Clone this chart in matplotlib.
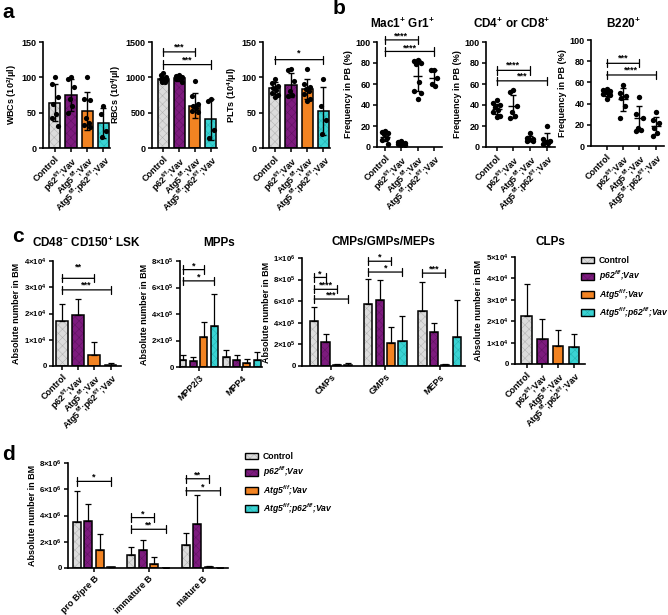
import numpy as np
import matplotlib
matplotlib.use("Agg")
import matplotlib.pyplot as plt
from matplotlib.patches import Patch
from matplotlib.legend_handler import HandlerTuple
from matplotlib.ticker import FuncFormatter

plt.rcParams['font.family'] = ['Liberation Sans', 'DejaVu Sans']
plt.rcParams['font.weight'] = 'bold'
plt.rcParams['axes.labelweight'] = 'bold'
plt.rcParams['mathtext.fontset'] = 'custom'
plt.rcParams['mathtext.rm'] = 'Liberation Sans:bold'
plt.rcParams['mathtext.bf'] = 'Liberation Sans:bold'
plt.rcParams['mathtext.it'] = 'Liberation Sans:italic:bold'
plt.rcParams['mathtext.default'] = 'bf'
plt.rcParams['hatch.linewidth'] = 0.35

# ---- data ----
genotypes = ["Control", "p62$^{f/f}$;Vav", "Atg5$^{f/f}$;Vav", "Atg5$^{f/f}$;p62$^{f/f}$;Vav"]
legend_labels = ["Control", "p62$^{\\mathit{f/f}}$;Vav", "Atg5$^{\\mathit{f/f}}$;Vav",
                 "Atg5$^{\\mathit{f/f}}$;p62$^{\\mathit{f/f}}$;Vav"]
colors = ["#dcdcdc", "#7d1b7e", "#f28322", "#3ad3d3"]
hatch_colors = ["#b0b0b0", "#5e1260", None, "#22b0b0"]

# a: blood counts (mean, SD, individual mice)
wbc_mean = [64, 75, 52, 35]
wbc_sd = [26, 22, 27, 21]
wbc_pts = [[100, 90, 72, 62, 48, 42, 31], [100, 98, 86, 70, 60, 50],
           [100, 70, 68, 42, 35, 32, 30], [60, 48, 24, 16]]
rbc_mean = [975, 985, 600, 410]
rbc_sd = [35, 40, 175, 290]
rbc_pts = [[1060, 1030, 1010, 990, 980, 970, 960, 950, 940, 930],
           [1040, 1020, 1010, 1000, 990, 970, 940],
           [950, 740, 620, 590, 560, 530, 510], [700, 660, 260, 140]]
plt_mean = [85, 89, 84, 52]
plt_sd = [8, 17, 14, 34]
plt_pts = [[98, 92, 88, 85, 82, 78, 75, 72], [112, 110, 95, 80, 75, 73],
           [112, 90, 86, 84, 80, 76, 70, 66], [97, 60, 40, 20]]

# b: PB frequencies
mac_pts = [[15, 14, 13, 12, 9, 7, 3], [6, 5, 4, 4, 3, 3, 2, 2],
           [83, 82, 80, 79, 62, 53, 51, 46], [73, 73, 66, 60, 58]]
mac_mean = [10, 3.5, 68, 66]
mac_sd = [4, 1.5, 15, 7]
cd_pts = [[45, 42, 40, 38, 35, 33, 30, 29], [54, 52, 39, 33, 30, 28],
          [13, 9, 8, 7, 7, 6, 6], [20, 8, 6, 5, 4, 3]]
cd_mean = [36, 39, 8, 7]
cd_sd = [5, 11, 2.5, 6]
b220_pts = [[54, 53, 52, 51, 50, 49, 48, 44], [58, 50, 47, 45, 38, 26],
            [46, 30, 26, 17, 15, 14], [32, 25, 22, 17, 12, 9]]
b220_mean = [50, 44, 26, 19]
b220_sd = [3, 11, 12, 8]

# c: BM progenitors (mean, upper SD)
lsk_mean = [1.7e4, 1.93e4, 0.43e4, 0.03e4]
lsk_err = [0.65e4, 0.62e4, 0.47e4, 0.07e4]
mpp_groups = ["MPP2/3", "MPP4"]
mpp_mean = [[0.55e5, 0.75e5], [0.45e5, 0.55e5], [2.3e5, 0.3e5], [3.1e5, 0.5e5]]
mpp_err = [[0.35e5, 0.5e5], [0.3e5, 0.35e5], [1.1e5, 0.3e5], [2.4e5, 0.6e5]]
prog_groups = ["CMPs", "GMPs", "MEPs"]
prog_mean = [[4.15e5, 5.77e5, 5.1e5], [2.2e5, 6.1e5, 3.15e5],
             [0.08e5, 2.15e5, 0.1e5], [0.1e5, 2.3e5, 2.65e5]]
prog_err = [[1.35e5, 2.25e5, 2.65e5], [0.8e5, 1.9e5, 0.85e5],
            [0.07e5, 1.45e5, 0.1e5], [0.2e5, 2.35e5, 3.45e5]]
clp_mean = [2.25e4, 1.15e4, 0.86e4, 0.79e4]
clp_err = [1.5e4, 0.95e4, 0.74e4, 0.62e4]

# d: B cells
bcell_groups = ["pro B/pre B", "immature B", "mature B"]
bcell_mean = [[3.53e6, 1.0e6, 1.72e6], [3.6e6, 1.34e6, 3.33e6],
              [1.34e6, 0.33e6, 0.08e6], [0.05e6, 0.02e6, 0.02e6]]
bcell_err = [[2.35e6, 0.57e6, 0.98e6], [1.3e6, 0.81e6, 2.23e6],
             [1.24e6, 0.5e6, 0.05e6], [0.03e6, 0.01e6, 0.01e6]]

W, H = 668, 615
fig = plt.figure(figsize=(W / 100, H / 100), dpi=100)
FS = 6.5
SCI_FS = 5.6


def add_ax(l, t, r, b):
    return fig.add_axes([l / W, 1 - b / H, (r - l) / W, (b - t) / H])


def style(ax, yfs=FS):
    for s in ["top", "right"]:
        ax.spines[s].set_visible(False)
    for s in ["left", "bottom"]:
        ax.spines[s].set_linewidth(1.2)
    ax.tick_params(width=1.1, length=3, labelsize=FS, pad=1.5)
    ax.tick_params(axis="y", labelsize=yfs)


def sci_fmt(v, pos):
    if v == 0:
        return "0"
    e = int(np.floor(np.log10(v) + 1e-9))
    return f"{v / 10**e:g}×10$^{{{e}}}$"


def draw_bar(ax, x, h, k, width):
    hc = hatch_colors[k]
    ax.bar(x, h, width, color=colors[k], edgecolor=hc if hc else colors[k],
           hatch="xxxx" if hc else None, linewidth=0, zorder=2)
    ax.bar(x, h, width, fill=False, edgecolor="k", linewidth=1.1, zorder=3)


def bracket(ax, x1, x2, y, label, dy):
    ax.annotate("", xy=(x1, y), xytext=(x2, y), annotation_clip=False,
                arrowprops=dict(arrowstyle="|-|,widthA=0.3,widthB=0.3", lw=0.9,
                                shrinkA=0, shrinkB=0))
    ax.text((x1 + x2) / 2, y + dy, label, ha="center", va="center", fontsize=FS, clip_on=False)


def geno_xticks(ax):
    ax.set_xticks(range(4))
    ax.set_xticklabels(genotypes, rotation=45, ha="right", rotation_mode="anchor")


def offsets(n, spread):
    pattern = [0, -1, 1, -0.5, 0.5, -1, 1, 0, -0.5, 0.5]
    return np.array(pattern[:n]) * spread


def bar_points(ax, mean, sd, pts, top, ticks, ylabel):
    for k in range(4):
        draw_bar(ax, k, mean[k], k, 0.7)
        ax.errorbar(k, mean[k], yerr=sd[k], fmt="none", ecolor="k", elinewidth=1,
                    capsize=2.5, capthick=1, zorder=5)
        p = np.array(pts[k], dtype=float)
        ax.scatter(k + offsets(len(p), 0.18), p, s=14, color="k", zorder=4, linewidths=0)
    ax.set_xlim(-0.72, 3.4)
    ax.set_ylim(0, top)
    ax.set_yticks(ticks)
    ax.set_ylabel(ylabel, fontsize=FS, labelpad=2)
    geno_xticks(ax)
    style(ax)


def scatter_panel(ax, pts, mean, sd, xl):
    for k in range(4):
        p = np.array(pts[k], dtype=float)
        ax.scatter(k + offsets(len(p), 0.2), p, s=15, color="k", zorder=4, linewidths=0)
        ax.hlines(mean[k], k - 0.3, k + 0.3, color="k", lw=1, zorder=5)
        ax.errorbar(k, mean[k], yerr=sd[k], fmt="none", ecolor="k", elinewidth=1,
                    capsize=2.2, capthick=1, zorder=5)
    ax.set_xlim(xl, 3.5)
    ax.set_ylim(0, 100)
    ax.set_yticks([0, 20, 40, 60, 80, 100])
    ax.set_ylabel("Frequency in PB (%)", fontsize=FS, labelpad=2)
    geno_xticks(ax)
    style(ax)


def single_bars(ax, mean, err, top, ticks, xl, width):
    for k in range(4):
        draw_bar(ax, k, mean[k], k, width)
        ax.errorbar(k, mean[k], yerr=[[0], [err[k]]], fmt="none", ecolor="k", elinewidth=0.9,
                    capsize=2.5, capthick=0.9, zorder=5)
    ax.set_xlim(*xl)
    ax.set_ylim(0, top)
    ax.set_yticks(ticks)
    ax.yaxis.set_major_formatter(FuncFormatter(sci_fmt))
    ax.set_ylabel("Absolute number in BM", fontsize=FS, labelpad=2)
    geno_xticks(ax)
    style(ax, SCI_FS)


def grouped_bars(ax, mean, err, groups, step, width, top, ticks, xl):
    n = len(groups)
    for k in range(4):
        xs = np.arange(n) + (k - 1.5) * step
        for g in range(n):
            draw_bar(ax, xs[g], mean[k][g], k, width)
        ax.errorbar(xs, mean[k], yerr=[np.zeros(n), err[k]], fmt="none", ecolor="k",
                    elinewidth=0.9, capsize=2.2, capthick=0.9, zorder=5)
    ax.set_xlim(*xl)
    ax.set_ylim(0, top)
    ax.set_yticks(ticks)
    ax.yaxis.set_major_formatter(FuncFormatter(sci_fmt))
    ax.set_ylabel("Absolute number in BM", fontsize=FS, labelpad=2)
    ax.set_xticks(range(n))
    ax.set_xticklabels(groups, rotation=45, ha="right", rotation_mode="anchor")
    style(ax, SCI_FS)


def gx(g, k, step):
    return g + (k - 1.5) * step


# ---- panel a ----
ax = add_ax(43, 42, 110, 148)
bar_points(ax, wbc_mean, wbc_sd, wbc_pts, 150, [0, 50, 100, 150], "WBCs (10$^{2}$/µl)")

ax = add_ax(152, 42, 217, 148)
bar_points(ax, rbc_mean, rbc_sd, rbc_pts, 1500, [0, 500, 1000, 1500], "RBCs (10$^{4}$/µl)")
bracket(ax, 0, 2, 1360, "***", 70)
bracket(ax, 0, 3, 1180, "***", 70)

ax = add_ax(263, 42, 330, 148)
bar_points(ax, plt_mean, plt_sd, plt_pts, 150, [0, 50, 100, 150], "PLTs (10$^{4}$/µl)")
bracket(ax, 0, 3, 125, "*", 10)

# ---- panel b ----
ax = add_ax(377, 42, 442, 147)
scatter_panel(ax, mac_pts, mac_mean, mac_sd, -0.5)
bracket(ax, 0, 2, 102, "****", 3.5)
bracket(ax, 0, 3, 91, "****", 3.5)

ax = add_ax(486, 42, 555, 147)
scatter_panel(ax, cd_pts, cd_mean, cd_sd, -0.65)
bracket(ax, 0, 2, 73, "****", 5)
bracket(ax, 0, 3, 63, "***", 5)

ax = add_ax(591, 40, 664, 146)
scatter_panel(ax, b220_pts, b220_mean, b220_sd, -0.95)
bracket(ax, 0, 2, 78, "***", 5)
bracket(ax, 0, 3, 67, "****", 5)

fig.text(402 / W, 1 - 24 / H, "Mac1$^{+}$ Gr1$^{+}$", ha="center", va="center", fontsize=8.5)
fig.text(512 / W, 1 - 24 / H, "CD4$^{+}$ or CD8$^{+}$", ha="center", va="center", fontsize=8.5)
fig.text(623 / W, 1 - 24 / H, "B220$^{+}$", ha="center", va="center", fontsize=8.5)

# ---- panel c ----
ax = add_ax(53, 261, 121, 366)
single_bars(ax, lsk_mean, lsk_err, 4e4, [0, 1e4, 2e4, 3e4, 4e4], (-0.56, 3.65), 0.73)
bracket(ax, 0, 2, 3.34e4, "**", 0.42e4)
bracket(ax, 0, 3, 2.9e4, "***", 0.18e4)

ax = add_ax(180, 261, 262, 367)
grouped_bars(ax, mpp_mean, mpp_err, mpp_groups, 0.24, 0.16, 8e5,
             [0, 2e5, 4e5, 6e5, 8e5], (-0.43, 1.47))
bracket(ax, gx(0, 0, 0.24), gx(0, 2, 0.24), 7.35e5, "*", 0.3e5)
bracket(ax, gx(0, 0, 0.24), gx(0, 3, 0.24), 6.5e5, "*", 0.3e5)

ax = add_ax(302, 258, 465, 366)
grouped_bars(ax, prog_mean, prog_err, prog_groups, 0.21, 0.15, 1e6,
             [0, 2e5, 4e5, 6e5, 8e5, 1e6], (-0.54, 2.47))
bracket(ax, gx(0, 0, 0.21), gx(0, 1, 0.21), 8.2e5, "*", 0.35e5)
bracket(ax, gx(0, 0, 0.21), gx(0, 2, 0.21), 7.1e5, "****", 0.35e5)
bracket(ax, gx(0, 0, 0.21), gx(0, 3, 0.21), 6.2e5, "***", 0.35e5)
bracket(ax, gx(1, 0, 0.21), gx(1, 2, 0.21), 9.7e5, "*", 0.35e5)
bracket(ax, gx(1, 0, 0.21), gx(1, 3, 0.21), 8.7e5, "*", 0.35e5)
bracket(ax, gx(2, 0, 0.21), gx(2, 2, 0.21), 8.6e5, "***", 0.35e5)

ax = add_ax(515, 257, 585, 364)
single_bars(ax, clp_mean, clp_err, 5e4, [0, 1e4, 2e4, 3e4, 4e4, 5e4], (-0.74, 3.7), 0.66)

fig.text(87 / W, 1 - 243 / H, "CD48$^{-}$ CD150$^{+}$ LSK", ha="center", va="center", fontsize=8.5)
fig.text(219 / W, 1 - 243 / H, "MPPs", ha="center", va="center", fontsize=8.5)
fig.text(383 / W, 1 - 242 / H, "CMPs/GMPs/MEPs", ha="center", va="center", fontsize=8.5)
fig.text(550 / W, 1 - 242 / H, "CLPs", ha="center", va="center", fontsize=8.5)

# ---- panel d ----
ax = add_ax(68, 463, 228, 568)
grouped_bars(ax, bcell_mean, bcell_err, bcell_groups, 0.21, 0.15, 8e6,
             [0, 2e6, 4e6, 6e6, 8e6], (-0.48, 2.46))
bracket(ax, gx(0, 0, 0.21), gx(0, 3, 0.21), 6.6e6, "*", 0.3e6)
bracket(ax, gx(1, 0, 0.21), gx(1, 2, 0.21), 3.84e6, "*", 0.3e6)
bracket(ax, gx(1, 0, 0.21), gx(1, 3, 0.21), 2.95e6, "**", 0.3e6)
bracket(ax, gx(2, 0, 0.21), gx(2, 2, 0.21), 6.8e6, "**", 0.3e6)
bracket(ax, gx(2, 0, 0.21), gx(2, 3, 0.21), 5.88e6, "*", 0.3e6)

# ---- legends ----
handles = []
for k in range(4):
    hc = hatch_colors[k]
    fill = Patch(facecolor=colors[k], edgecolor=hc if hc else colors[k], linewidth=0,
                 hatch="xxxx" if hc else None)
    edge = Patch(fill=False, edgecolor="k", linewidth=1)
    handles.append((fill, edge))
for (lx, ly) in [(581, 256), (245, 452)]:
    leg = fig.legend(handles, legend_labels, loc="upper left",
                     handler_map={tuple: HandlerTuple(ndivide=1, pad=0)},
                     bbox_to_anchor=(lx / W, 1 - ly / H), frameon=False, fontsize=6.2,
                     handlelength=1.5, handleheight=0.85, labelspacing=0.45,
                     handletextpad=0.6, borderaxespad=0, borderpad=0)
    for i, t in enumerate(leg.get_texts()):
        if i > 0:
            t.set_fontstyle("italic")

# ---- panel letters ----
fig.text(2 / W, 1 - 12 / H, "a", fontsize=15, va="center", ha="left")
fig.text(333 / W, 1 - 9 / H, "b", fontsize=15, va="center", ha="left")
fig.text(12 / W, 1 - 237 / H, "c", fontsize=15, va="center", ha="left")
fig.text(2 / W, 1 - 455 / H, "d", fontsize=15, va="center", ha="left")

fig.savefig("out.png", dpi=100)
